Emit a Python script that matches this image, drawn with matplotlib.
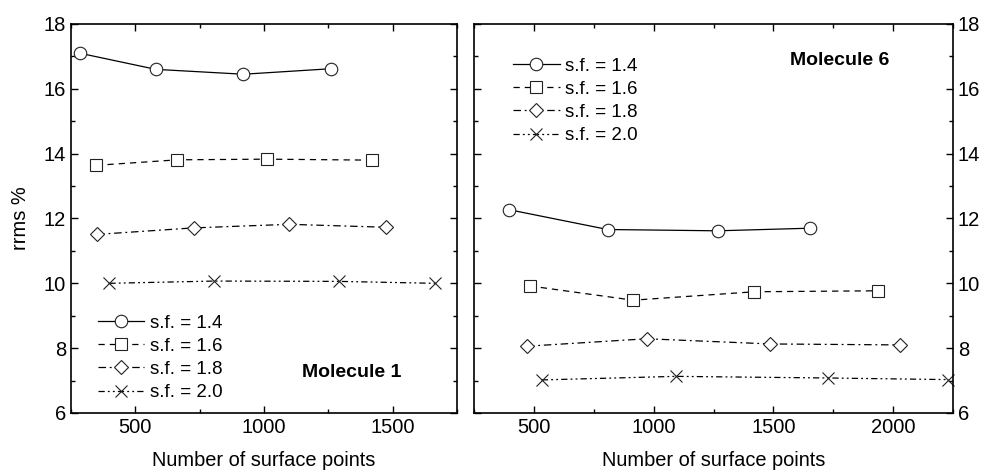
import matplotlib
matplotlib.use("Agg")
import matplotlib.pyplot as plt
from matplotlib.ticker import MultipleLocator

plt.rcParams['font.family'] = ['Liberation Sans', 'DejaVu Sans']

labels = ['s.f. = 1.4', 's.f. = 1.6', 's.f. = 1.8', 's.f. = 2.0']

# Molecule 1
m1_x = [[283, 580, 920, 1260],
        [348, 663, 1010, 1420],
        [352, 726, 1098, 1473],
        [399, 807, 1291, 1664]]
m1_y = [[17.10, 16.60, 16.45, 16.62],
        [13.64, 13.81, 13.83, 13.80],
        [11.51, 11.71, 11.82, 11.73],
        [10.00, 10.07, 10.06, 10.00]]

# Molecule 6
m6_x = [[397, 808, 1267, 1651],
        [482, 914, 1421, 1938],
        [471, 971, 1487, 2028],
        [533, 1093, 1728, 2230]]
m6_y = [[12.27, 11.66, 11.62, 11.70],
        [9.92, 9.48, 9.74, 9.77],
        [8.06, 8.29, 8.13, 8.10],
        [7.02, 7.13, 7.08, 7.03]]

markers = ['o', 's', 'D', 'x']
msizes = [9, 8, 7, 9]
styles = ['-', (0, (5, 4)), (0, (6, 3, 1.5, 3)), (0, (5, 2.5, 1.5, 2.5, 1.5, 2.5))]

fig = plt.figure(figsize=(10.02, 4.74), dpi=100)
ax1 = fig.add_axes([0.0709, 0.1287, 0.3852, 0.8207])
ax2 = fig.add_axes([0.4731, 0.1287, 0.4780, 0.8207])


def draw(ax, xs, ys):
    for x, y, m, ms, ls, lab in zip(xs, ys, markers, msizes, styles, labels):
        ax.plot(x, y, color='black', lw=0.9, linestyle=ls, marker=m, ms=ms,
                mfc='white', mec='#222222', mew=0.8, label=lab)
    ax.set_ylim(6, 18)
    ax.yaxis.set_major_locator(MultipleLocator(2))
    ax.yaxis.set_minor_locator(MultipleLocator(1))
    ax.xaxis.set_major_locator(MultipleLocator(500))
    ax.xaxis.set_minor_locator(MultipleLocator(250))
    ax.tick_params(which='both', direction='in', top=True, right=True,
                   labelsize=14.5, width=1)
    ax.tick_params(which='major', length=5)
    ax.tick_params(which='minor', length=3)
    for s in ax.spines.values():
        s.set_linewidth(1.2)
    ax.set_xlabel('Number of surface points', fontsize=14.4, labelpad=10)


legend_kw = dict(frameon=False, fontsize=13.5, handlelength=2.5,
                 handletextpad=0.3, labelspacing=0.32)

draw(ax1, m1_x, m1_y)
ax1.set_xlim(250, 1750)
ax1.set_ylabel('rrms %', fontsize=14.4, labelpad=10)
ax1.legend(loc='lower left', bbox_to_anchor=(0.025, -0.013), **legend_kw)
ax1.text(0.728, 0.105, 'Molecule 1', transform=ax1.transAxes, ha='center',
         va='center', fontsize=14, fontweight='bold')

draw(ax2, m6_x, m6_y)
ax2.set_xlim(250, 2250)
ax2.tick_params(axis='y', labelleft=False, labelright=True)
ax2.legend(loc='upper left', bbox_to_anchor=(0.046, 0.957), **legend_kw)
ax2.text(0.764, 0.905, 'Molecule 6', transform=ax2.transAxes, ha='center',
         va='center', fontsize=14, fontweight='bold')

for ax in (ax1, ax2):
    for ln in ax.get_lines():
        ln.set_clip_on(False)

fig.savefig('out.png', dpi=100)
